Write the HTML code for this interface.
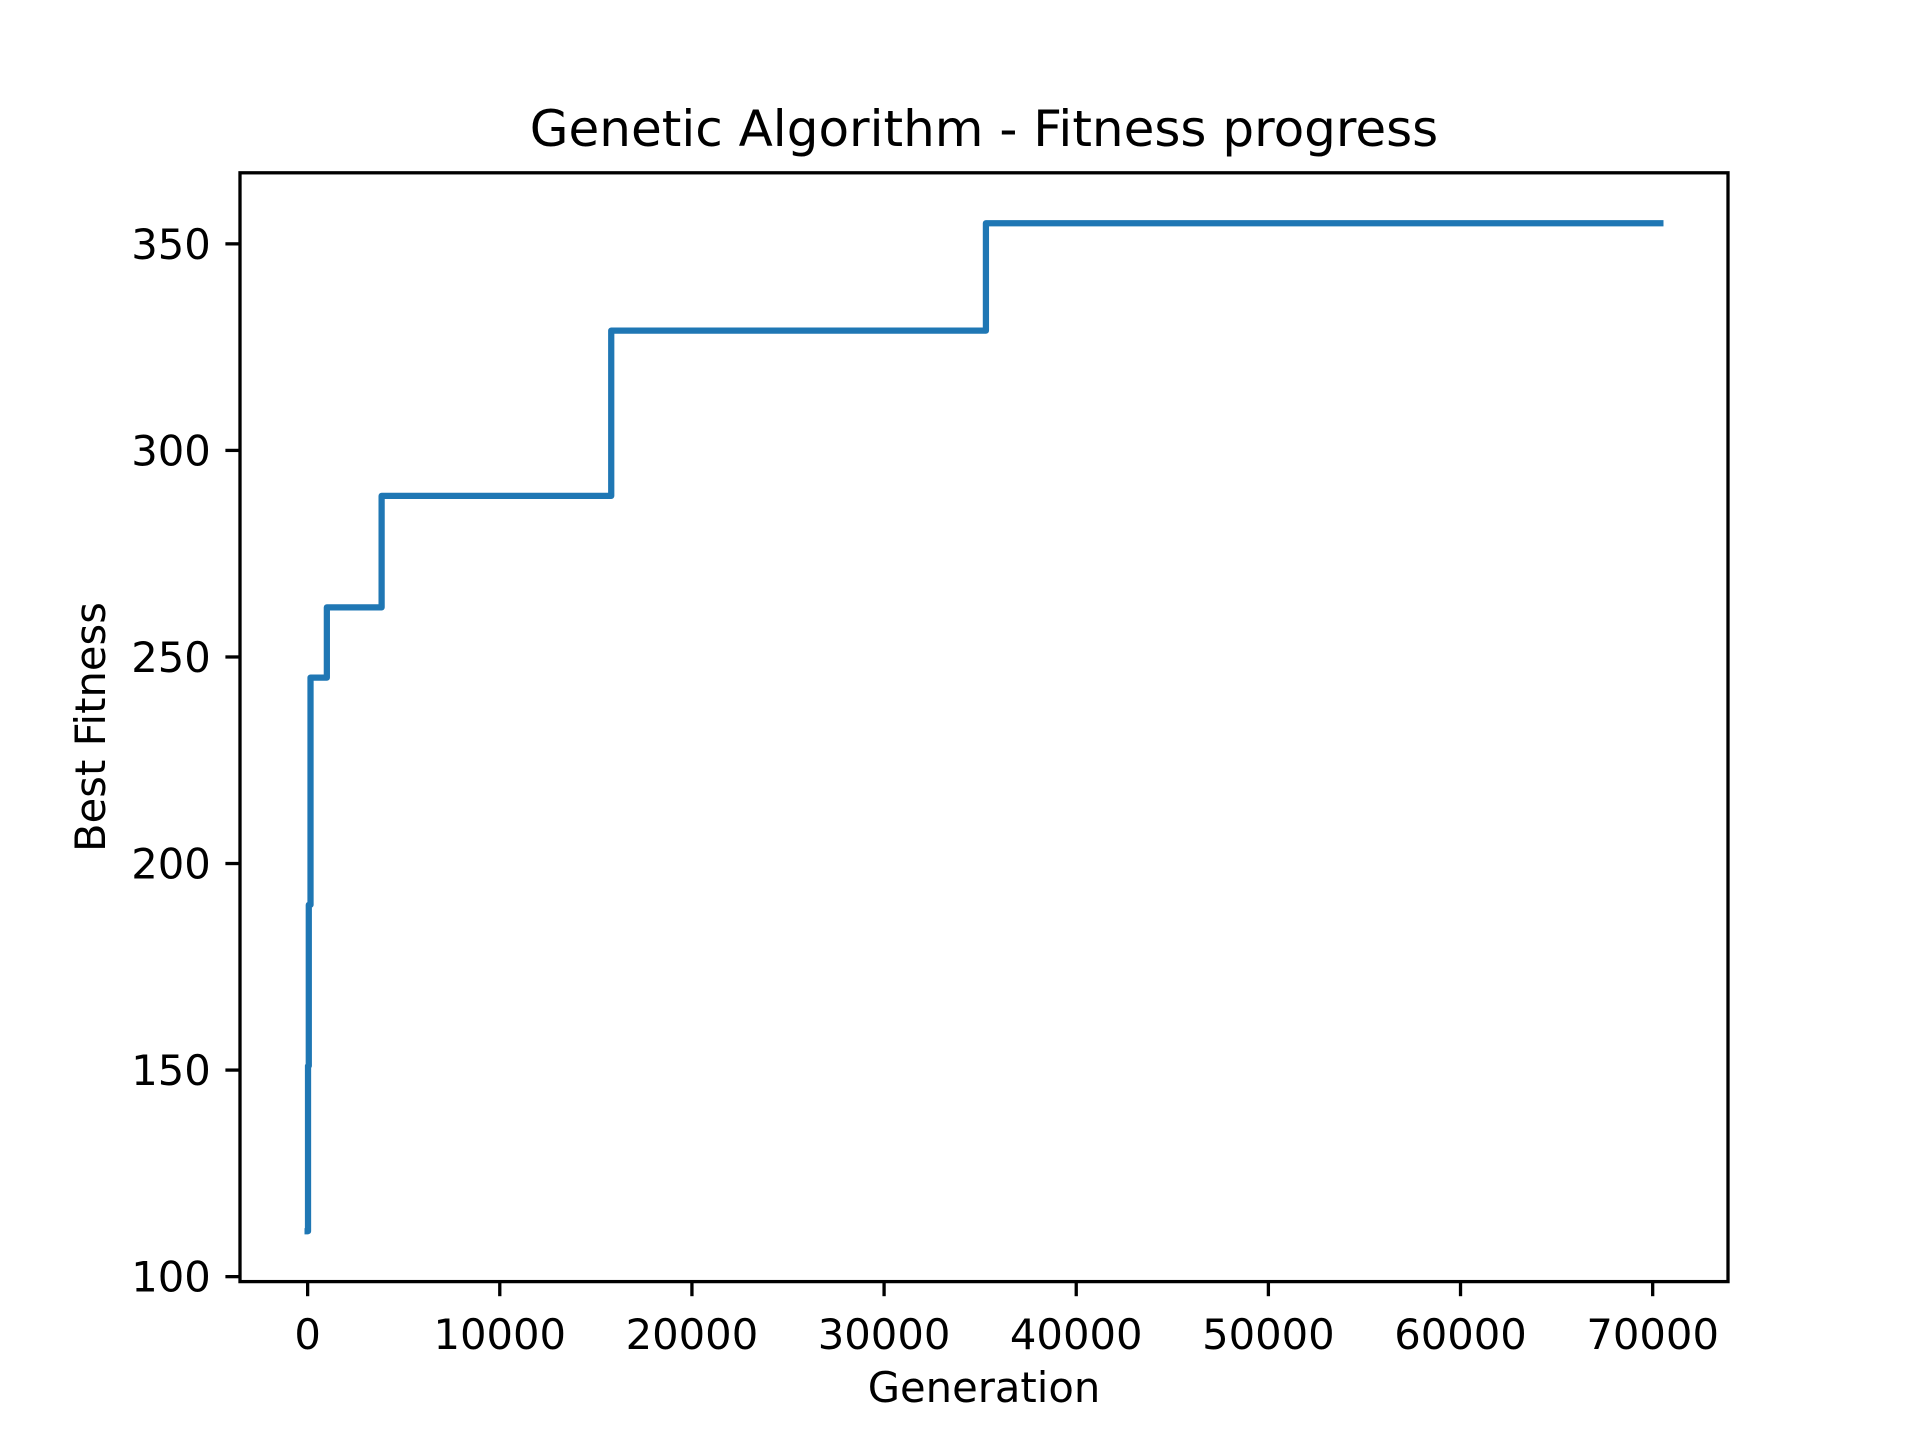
<!DOCTYPE html>
<html><head><meta charset="utf-8"><style>
html,body{margin:0;padding:0;background:#fff;}
svg{display:block;font-family:"DejaVu Sans","Liberation Sans",sans-serif;}
</style></head><body>
<svg id="chart" width="1920" height="1440">
<rect x="0" y="0" width="1920" height="1440" fill="#fff"/>
<text x="984" y="146" font-size="50" text-anchor="middle">Genetic Algorithm - Fitness progress</text>
<g id="plot"></g>
<text x="984" y="1402" font-size="41.7" text-anchor="middle">Generation</text>
<text transform="translate(105,727) rotate(-90)" font-size="41.7" text-anchor="middle">Best Fitness</text>
</svg>
<script>
const generations = [0, 20, 60, 150, 1000, 3850, 15800, 35300, 70400];
const fitness = [111, 151, 190, 245, 262, 289, 329, 355, 355];
const xTicks = [0, 10000, 20000, 30000, 40000, 50000, 60000, 70000];
const yTicks = [100, 150, 200, 250, 300, 350];

const L=240, R=1728, T=172.8, B=1281.6;
const xmin=-3520, xmax=73920, ymin=98.8, ymax=367.2;
const sx=v=>L+(v-xmin)/(xmax-xmin)*(R-L);
const sy=v=>B-(v-ymin)/(ymax-ymin)*(B-T);
const NS='http://www.w3.org/2000/svg';
const g=document.getElementById('plot');
function mk(tag,attrs){const e=document.createElementNS(NS,tag);for(const k in attrs)e.setAttribute(k,attrs[k]);g.appendChild(e);return e;}

let d='M'+sx(generations[0])+','+sy(fitness[0]);
for(let i=1;i<generations.length;i++){
  d+=' L'+sx(generations[i])+','+sy(fitness[i-1])+' L'+sx(generations[i])+','+sy(fitness[i]);
}
const line=mk('path',{d:d,fill:'none',stroke:'#1f77b4','stroke-width':6.25,'stroke-linecap':'square','stroke-linejoin':'round'});



xTicks.forEach(t=>{
  const x=sx(t);
  const tk=mk('line',{x1:x,x2:x,y1:B,y2:B+14.6,stroke:'#000','stroke-width':3.3});
  
  
  const tx=mk('text',{x:x,y:B+29.2+38,'font-size':41.7,'text-anchor':'middle'});
  tx.textContent=t;
  
  
});
yTicks.forEach(t=>{
  const y=sy(t);
  const tk=mk('line',{x1:L-14.6,x2:L,y1:y,y2:y,stroke:'#000','stroke-width':3.3});
  
  
  const tx=mk('text',{x:L-29.2,y:y+15,'font-size':41.7,'text-anchor':'end'});
  tx.textContent=t;
  
  
});
const frame=mk('rect',{x:L,y:T,width:R-L,height:B-T,fill:'none',stroke:'#000','stroke-width':3.3});


</script>
</body></html>
